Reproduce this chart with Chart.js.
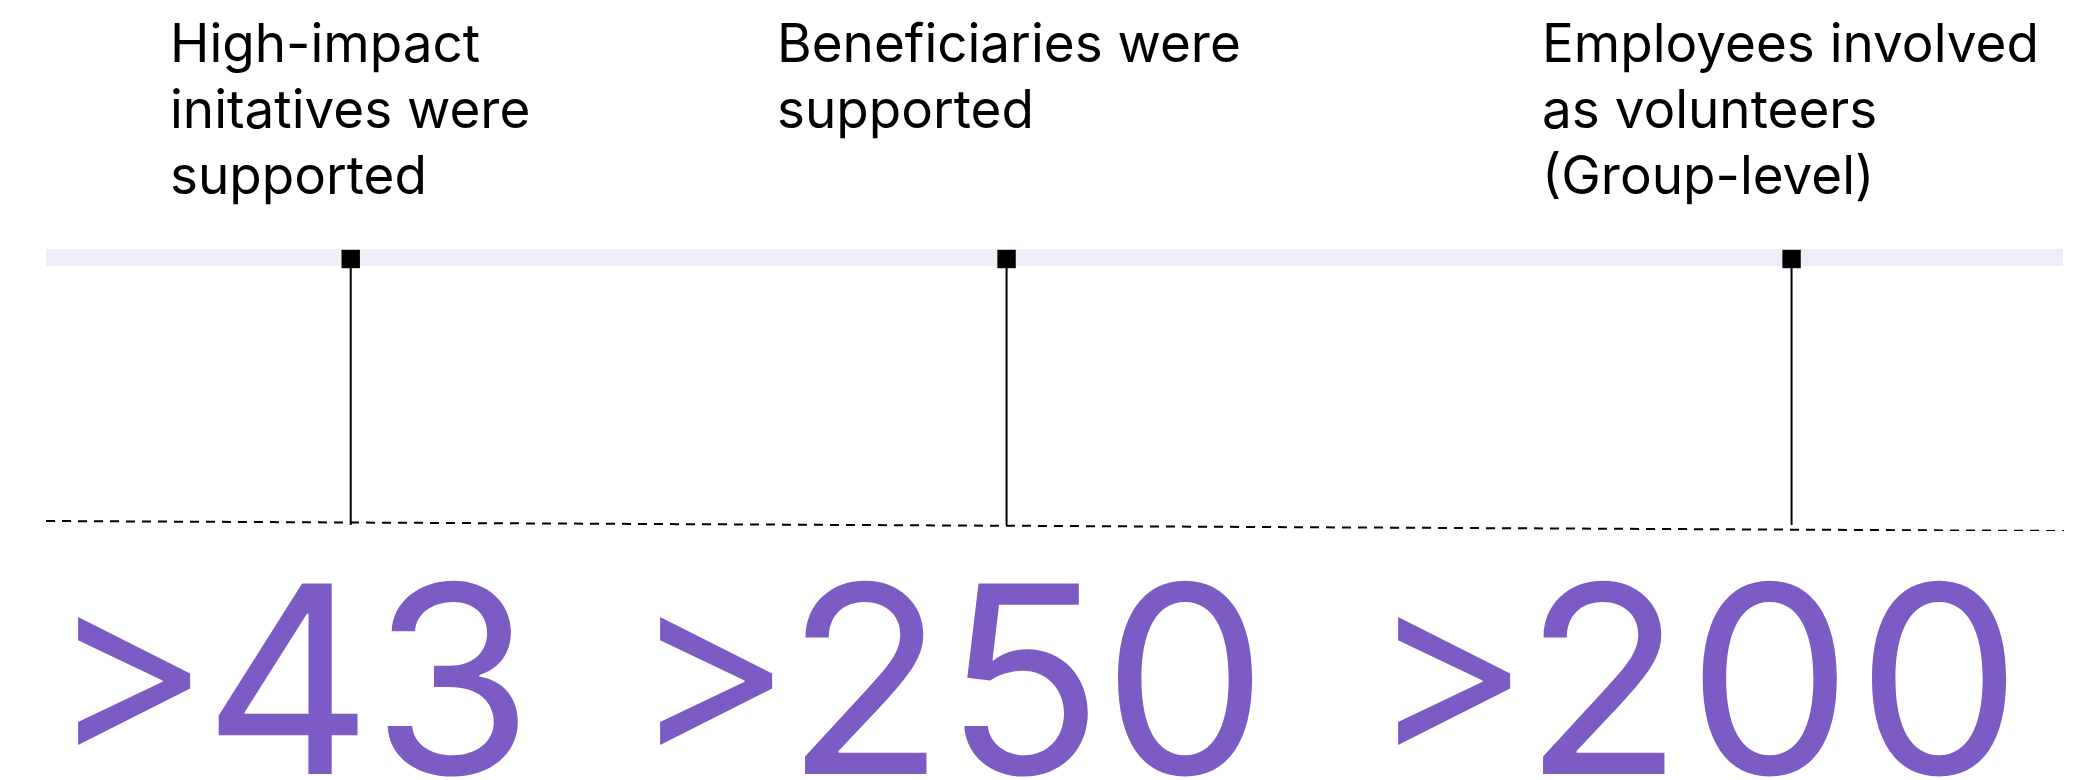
<!DOCTYPE html>
<html>
<head>
<meta charset="utf-8">
<script src="https://cdn.jsdelivr.net/npm/chart.js@4.4.1/dist/chart.umd.min.js"></script>
<style>
  html, body { margin: 0; padding: 0; background: #fff; }
  #wrap { width: 2096px; height: 780px; }
</style>
</head>
<body>
<div id="wrap"><canvas id="chart" width="2096" height="780"></canvas></div>
<script>
// data
const categories = [
  ['High-impact', 'initatives were', 'supported'],
  ['Beneficiaries were', 'supported'],
  ['Employees involved', 'as volunteers', '(Group-level)']
];
const values = [43, 250, 200];
const valuePrefix = '>';
const trackPos = [15.1, 47.6, 86.5]; // where each marker sits on the 0-100 track

// layout (pixels)
const labelX = [170, 777, 1542];
const numberX = [50, 632, 1370];
const digitSpacing = [-1, -1, 4];
const labelTop = 62, labelStep = 66;
const numberBase = 774;
const purple = '#7c5cc4';

const BAND_TOP = 282, BAND_H = 17;
const MARK_Y = 272, STEM_TOP = 265, STEM_BOTTOM = 6;

const textPlugin = {
  id: 'texts',
  beforeDatasetsDraw(chart) {
    const { ctx, chartArea } = chart;
    ctx.save();
    ctx.fillStyle = '#efedf7';
    ctx.fillRect(chartArea.left, chartArea.top, chartArea.width - 1, BAND_H);
    ctx.restore();
  },
  afterDraw(chart) {
    const ctx = chart.ctx;
    ctx.save();
    ctx.textBaseline = 'alphabetic';
    ctx.textAlign = 'left';
    ctx.fillStyle = '#000';
    ctx.font = '53px Inter';
    ctx.letterSpacing = '0px';
    categories.forEach((lines, i) => {
      lines.forEach((line, j) => {
        ctx.fillText(line, labelX[i], labelTop + j * labelStep);
      });
    });

    ctx.fillStyle = purple;
    ctx.font = '262px Inter';
    const gtW = ctx.measureText(valuePrefix).width;
    values.forEach((v, i) => {
      ctx.font = '243px Inter';
      ctx.letterSpacing = '0px';
      ctx.fillText(valuePrefix, numberX[i], numberBase - 24);
      ctx.font = '262px Inter';
      ctx.letterSpacing = digitSpacing[i] + 'px';
      ctx.fillText(String(v), numberX[i] + gtW - 20, numberBase);
    });
    ctx.restore();
  }
};

const stems = trackPos.map(p => ({
  type: 'line',
  data: [{ x: p, y: STEM_TOP }, { x: p, y: STEM_BOTTOM }],
  borderColor: '#000',
  borderWidth: 2,
  pointRadius: 0,
  order: 1
}));

function draw() {
  new Chart(document.getElementById('chart'), {
    type: 'scatter',
    data: {
      datasets: [
        {
          label: 'markers',
          data: trackPos.map(p => ({ x: p, y: MARK_Y })),
          pointStyle: 'rect',
          pointRadius: 13,
          backgroundColor: '#000',
          borderWidth: 0,
          order: 0
        },
        ...stems,
        {
          type: 'line',
          label: 'baseline',
          data: [{ x: 0, y: 10 }, { x: 100.15, y: 0 }],
          borderColor: '#000',
          borderWidth: 2,
          borderDash: [9, 7],
          pointRadius: 0,
          order: 2
        }
      ]
    },
    options: {
      responsive: false,
      animation: false,
      devicePixelRatio: 1,
      layout: { padding: { left: 46, right: 32, top: 249, bottom: 249 } },
      plugins: { legend: { display: false }, tooltip: { enabled: false } },
      scales: {
        x: { type: 'linear', min: 0, max: 100, display: false },
        y: { type: 'linear', min: 0, max: BAND_TOP, display: false }
      }
    },
    plugins: [textPlugin]
  });
}

document.fonts.load('53px Inter').then(draw, draw);
</script>
</body>
</html>
